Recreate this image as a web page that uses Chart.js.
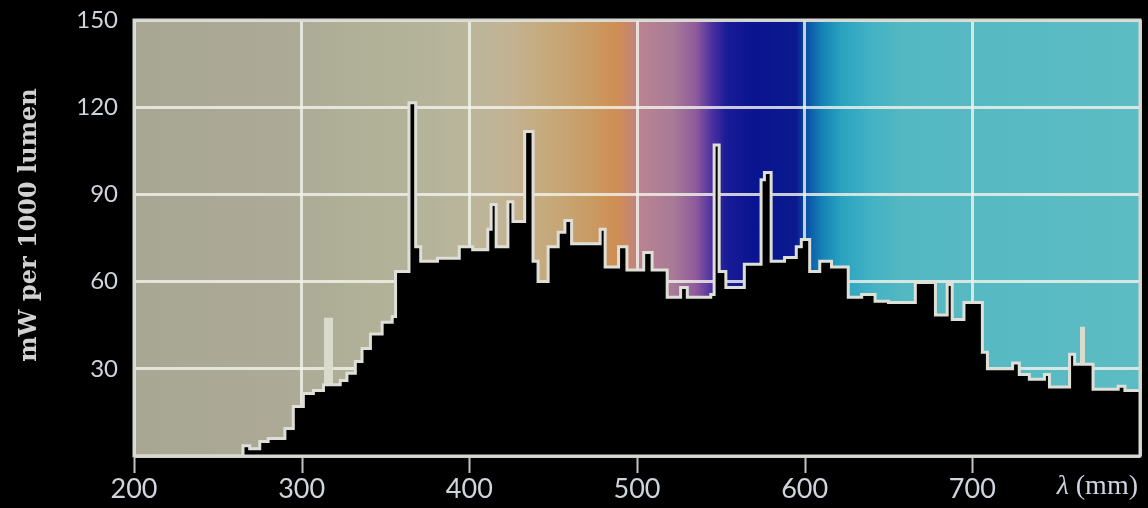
<!DOCTYPE html>
<html>
<head>
<meta charset="utf-8">
<script src="https://cdn.jsdelivr.net/npm/chart.js@4.4.1/dist/chart.umd.min.js"></script>
<style>
  html, body { margin: 0; padding: 0; background: #000; }
  canvas { display: block; }
</style>
</head>
<body>
<canvas id="spectrum" width="1148" height="508"></canvas>
<script>
// Spectral power distribution (stepped): each level holds from its wavelength up to the next one
const wavelengths = [200, 265, 269, 275, 280, 290, 295, 301, 307, 313, 323, 327, 332, 336, 341, 348, 354, 356,
  364, 368, 371, 381, 394, 402, 411, 413, 416, 423, 426, 433, 438, 441, 447, 453, 457, 461, 478, 481, 489, 494,
  504, 509, 518, 526, 530, 544, 546, 549, 553, 564, 574, 576, 580, 588, 595, 598, 603, 609, 616, 626, 634, 642,
  650, 666, 678, 685, 688, 695, 706, 709, 724, 728, 734, 743, 746, 758, 761, 772, 787, 791, 800];
const power = [0, 3.5, 2.5, 5, 6, 9.5, 17, 21.5, 22.5, 24.5, 26, 28.5, 32.5, 37, 42, 46, 48, 63.5,
  121.5, 72, 67, 68, 72, 71, 78, 86.5, 72, 87.5, 80.7, 111.6, 67, 60, 72, 77, 81, 73, 78, 65, 72, 64,
  70, 64, 54.6, 58, 54.6, 55.6, 107, 63.5, 58, 66, 95, 97.5, 67, 68.3, 72, 74.5, 63.5, 67, 65, 54.6, 55.6, 53.2,
  52.8, 59.7, 48.5, 59, 47, 52.8, 35.7, 30, 32, 28, 26.4, 28, 23.7, 35, 31.6, 23, 24, 22.5, 22.5];

// Narrow emission lines drawn in a light tone
const lineStart = [313.3, 764.2];
const lineEnd = [318.7, 767.2];
const lineLevel = [47.6, 44.5];

const xTicks = [200, 300, 400, 500, 600, 700];
const yTicks = [30, 60, 90, 120, 150];
const yTitle = 'mW per 1000 lumen';
const xSymbol = 'λ';
const xUnit = ' (mm)';

// Background hues along the wavelength axis
const bandStops = [
  [200, '#a8a794'], [290, '#acaa96'], [330, '#afb097'], [380, '#b5b49a'], [400, '#bbb69b'],
  [425, '#c3b292'], [450, '#c6a878'], [470, '#c99c66'], [488, '#cf8e54'], [495, '#c8876a'],
  [502, '#b98392'], [522, '#a77a96'], [535, '#8f5a9c'], [545, '#4a30a0'], [553, '#1a1c96'],
  [570, '#0a1490'], [595, '#0a1a8e'], [601, '#0a50a8'], [610, '#1480b4'], [622, '#2aa2c0'],
  [640, '#44b2c4'], [660, '#54b8c2'], [800, '#5cbcc4']
];

const spectrumPoints = wavelengths.map((w, i) => ({ x: w, y: power[i] }));
const lineSets = lineStart.map((s, i) => ({
  data: [{ x: s, y: lineLevel[i] }, { x: lineEnd[i], y: lineLevel[i] }],
  stepped: true,
  fill: 'origin',
  backgroundColor: '#dadccb',
  borderWidth: 0,
  pointRadius: 0
}));

const backdrop = {
  id: 'backdrop',
  beforeDraw(chart) {
    const { ctx, chartArea: a, scales: { x } } = chart;
    ctx.save();
    ctx.fillStyle = '#000';
    ctx.fillRect(0, 0, chart.width, chart.height);
    const x0 = x.getPixelForValue(200), x1 = x.getPixelForValue(800);
    const g = ctx.createLinearGradient(x0, 0, x1, 0);
    bandStops.forEach(([w, c]) => g.addColorStop((w - 200) / 600, c));
    ctx.fillStyle = g;
    ctx.fillRect(a.left, a.top, a.right - a.left, a.bottom - a.top);
    ctx.restore();
  }
};

const frame = {
  id: 'frame',
  afterDatasetsDraw(chart) {
    const { ctx, chartArea: a, scales: { x } } = chart;
    ctx.save();
    ctx.strokeStyle = '#d8d8d2';
    ctx.lineWidth = 3;
    ctx.strokeRect(a.left, a.top, a.right - a.left, a.bottom - a.top);
    // short marks below the axis at each labelled wavelength
    ctx.lineWidth = 2;
    ctx.strokeStyle = '#c4c4c4';
    ctx.beginPath();
    xTicks.forEach(v => {
      const px = Math.round(x.getPixelForValue(v)) + 0.5;
      ctx.moveTo(px, a.bottom + 2);
      ctx.lineTo(px, a.bottom + 17);
    });
    ctx.stroke();
    ctx.restore();
  },
  afterDraw(chart) {
    const { ctx, chartArea: a } = chart;
    ctx.save();
    // vertical axis title
    ctx.translate(a.left - 104, (a.top + a.bottom) / 2 - 13);
    ctx.rotate(-Math.PI / 2);
    ctx.textAlign = 'center';
    ctx.textBaseline = 'middle';
    ctx.font = 'bold 24px "DejaVu Serif"';
    ctx.fillStyle = '#d2d2d2';
    ctx.fillText(yTitle, 0, 0);
    ctx.restore();
    // wavelength unit at the end of the horizontal axis
    ctx.save();
    ctx.textBaseline = 'middle';
    ctx.textAlign = 'left';
    ctx.fillStyle = '#cdd3e0';
    ctx.font = '28px "Liberation Serif"';
    const unitW = ctx.measureText(xUnit).width;
    ctx.font = 'italic 28px "Liberation Serif"';
    const symW = ctx.measureText(xSymbol).width;
    const right = a.right - 2, y = a.bottom + 31;
    ctx.fillText(xSymbol, right - unitW - symW, y);
    ctx.font = '28px "Liberation Serif"';
    ctx.fillText(xUnit, right - unitW, y);
    ctx.restore();
  }
};

function draw() {
  new Chart(document.getElementById('spectrum'), {
    type: 'line',
    data: {
      datasets: [{
        data: spectrumPoints,
        stepped: true,
        fill: 'origin',
        backgroundColor: '#000',
        borderColor: '#dedfd6',
        borderWidth: 3,
        pointRadius: 0
      }, ...lineSets]
    },
    options: {
      responsive: false,
      animation: false,
      devicePixelRatio: 1,
      layout: { padding: { top: 20, right: 8, bottom: 0, left: 0 } },
      plugins: { legend: { display: false }, tooltip: { enabled: false } },
      scales: {
        x: {
          type: 'linear',
          min: 200, max: 800,
          afterFit(s) { s.height = 52; },
          border: { display: false },
          grid: {
            color: 'rgba(242,242,234,0.82)',
            lineWidth: 3,
            drawTicks: true,
            tickLength: 17,
            tickColor: 'rgba(0,0,0,0)'
          },
          ticks: {
            stepSize: 100,
            padding: 0,
            maxRotation: 0,
            color: '#cfd5dc',
            font: { family: 'Lato', size: 27 },
            callback: v => xTicks.includes(v) ? String(v) : ''
          }
        },
        y: {
          min: 0, max: 150,
          afterFit(s) { s.width = 134; },
          border: { display: false },
          grid: {
            color: 'rgba(242,242,234,0.82)',
            lineWidth: 3,
            drawTicks: true,
            tickLength: 16,
            tickColor: 'rgba(0,0,0,0)'
          },
          ticks: {
            stepSize: 30,
            padding: 0,
            color: '#cfd5dc',
            font: { family: 'Lato', size: 24 },
            callback: v => yTicks.includes(v) ? String(v) : ''
          }
        }
      }
    },
    plugins: [backdrop, frame]
  });
}

Promise.all([
  document.fonts.load('24px Lato'),
  document.fonts.load('bold 24px "DejaVu Serif"'),
  document.fonts.load('28px "Liberation Serif"'),
  document.fonts.load('italic 28px "Liberation Serif"')
]).then(draw, draw);
</script>
</body>
</html>
